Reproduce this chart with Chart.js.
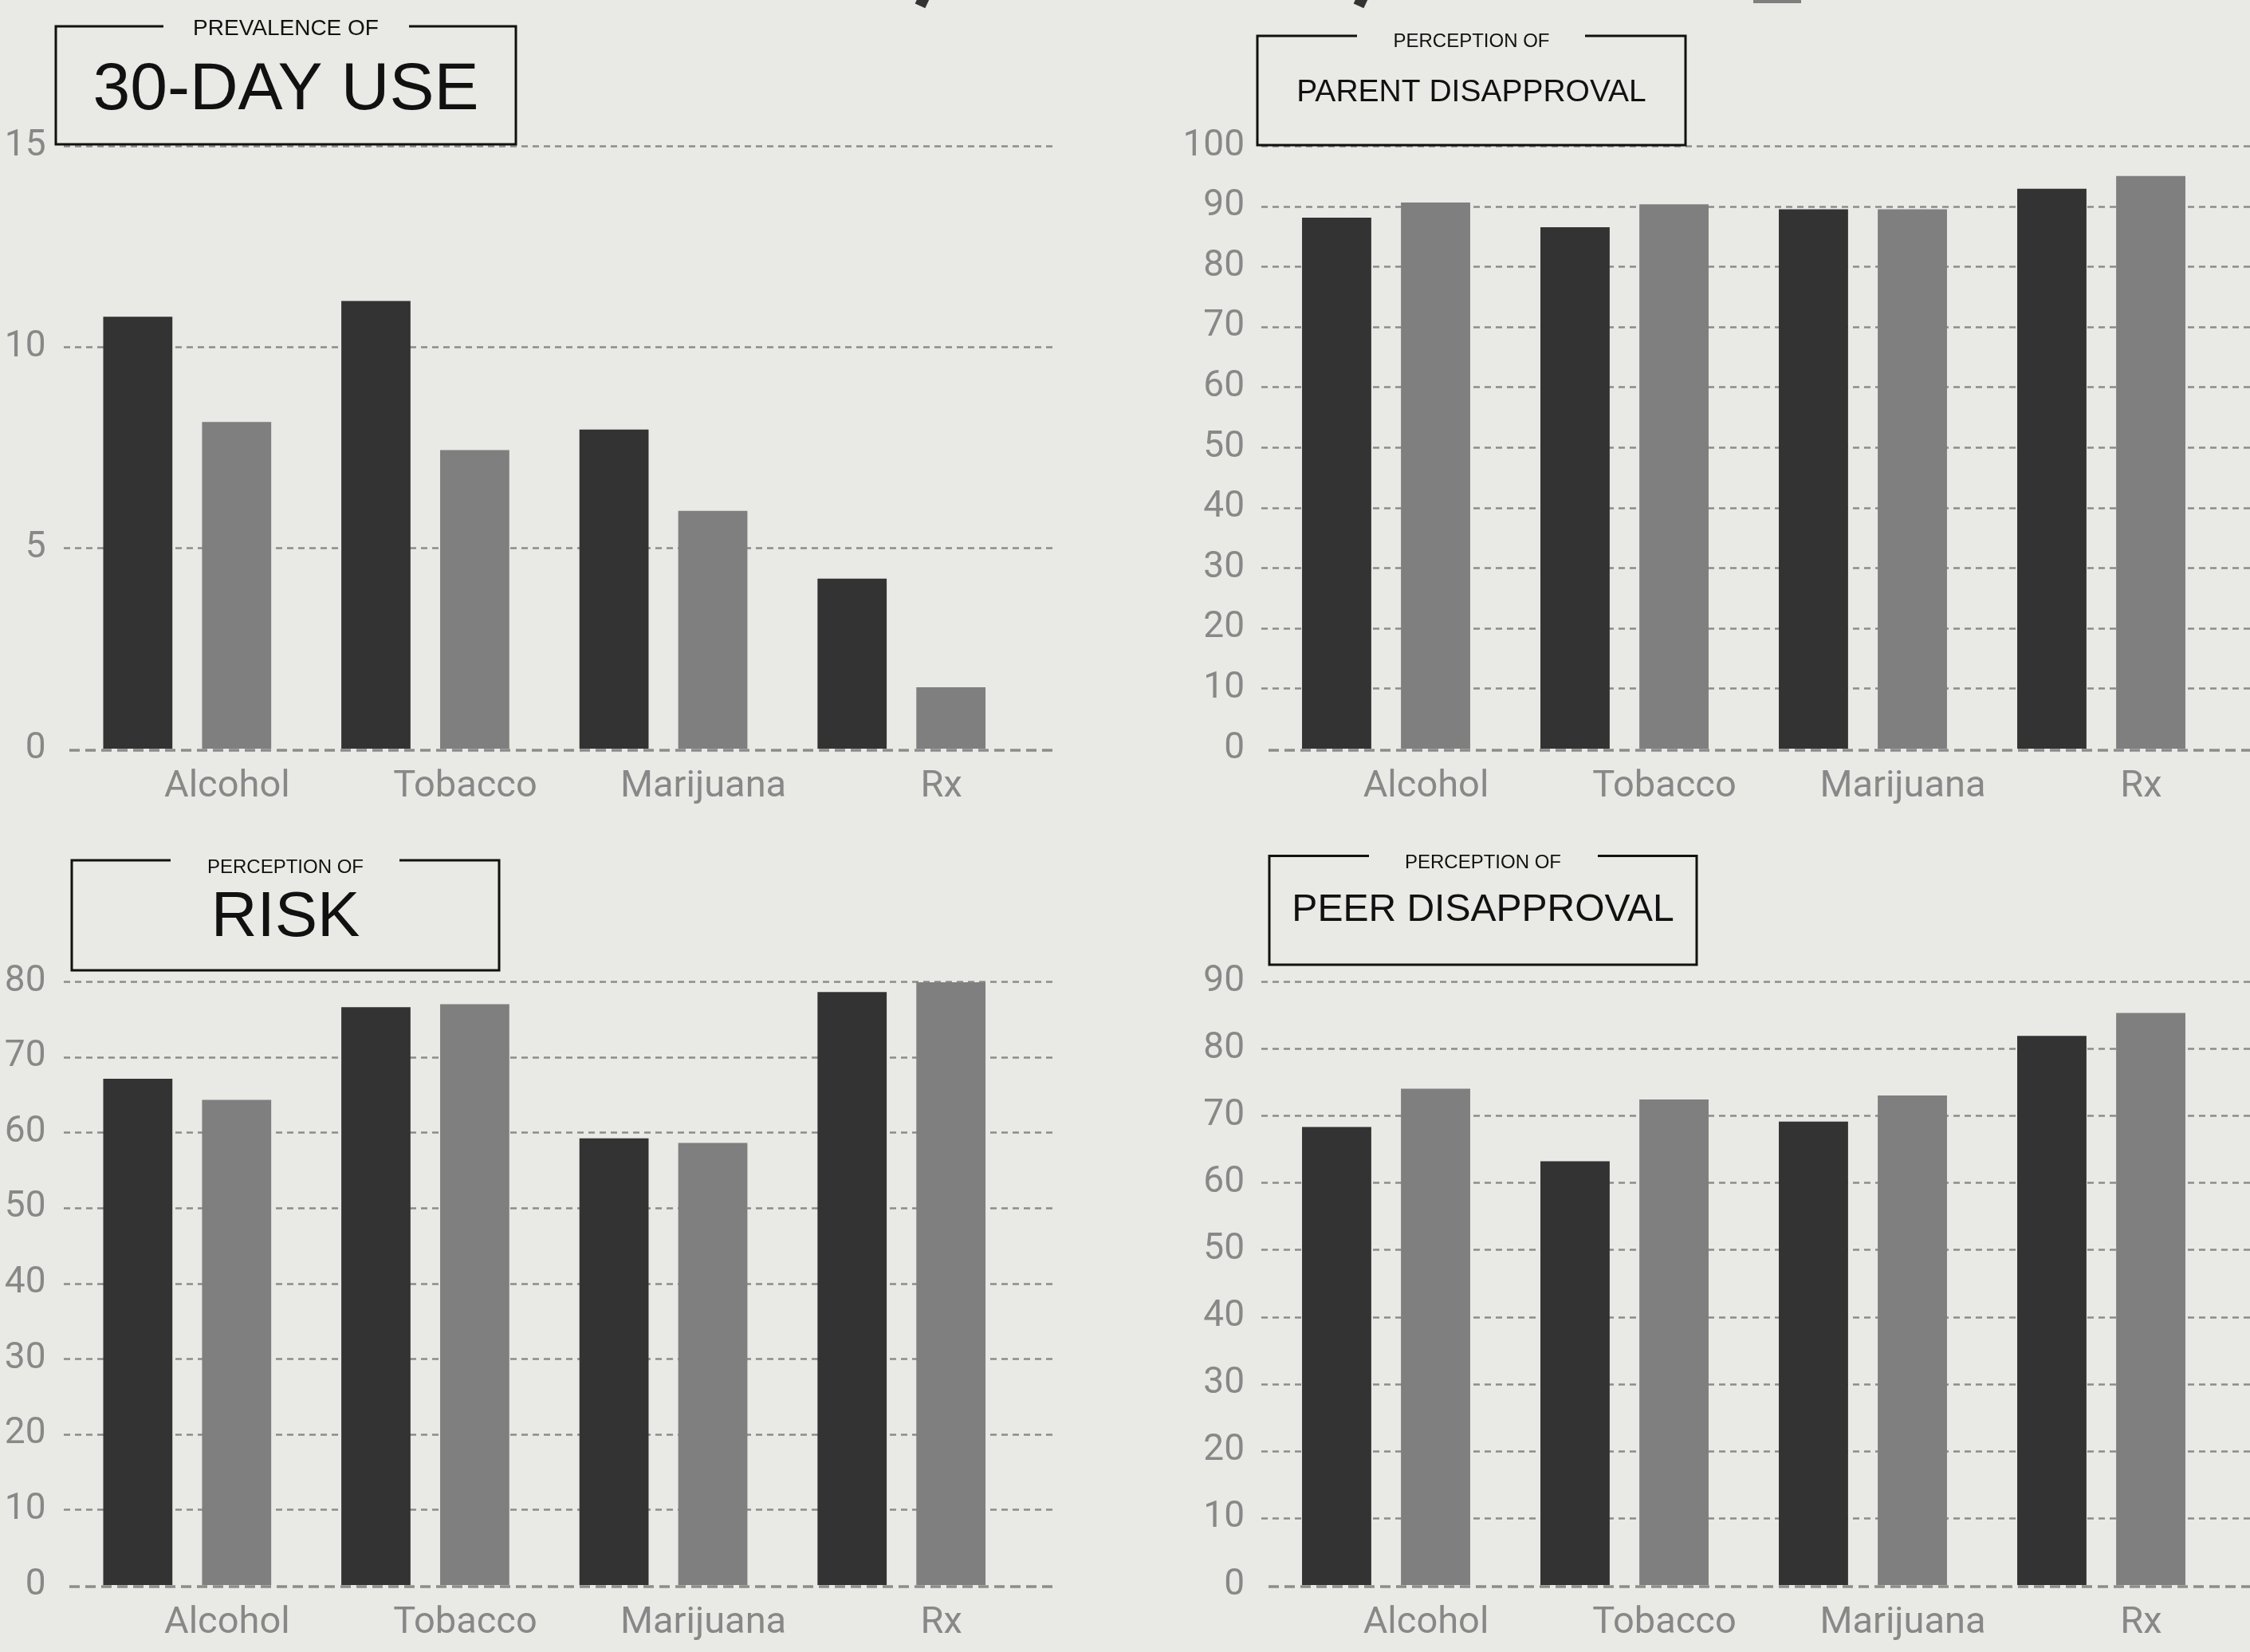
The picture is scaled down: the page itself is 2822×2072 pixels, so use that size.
<!DOCTYPE html>
<html>
<head>
<meta charset="utf-8">
<script src="https://cdn.jsdelivr.net/npm/chart.js@4.4.1/dist/chart.umd.min.js"></script>
<style>
	html, body { margin: 0; padding: 0; background: #e9e9e5; }
	body { width: 2822px; height: 2072px; position: relative; overflow: hidden; }
	.panel { position: absolute; width: 1411px; height: 1036px; }
	.bit { position: absolute; }
</style>
</head>
<body>
<div class="bit" style="left:1150px;top:-6px;width:14px;height:14px;background:#333;transform:rotate(25deg)"></div>
<div class="bit" style="left:1700px;top:-6px;width:14px;height:14px;background:#333;transform:rotate(25deg)"></div>
<div class="bit" style="left:2199px;top:0;width:60px;height:4px;background:#7f7f7f"></div>

<div class="panel" style="left:0;top:0"><canvas id="useChart"></canvas></div>
<div class="panel" style="left:1411px;top:0"><canvas id="parentChart"></canvas></div>
<div class="panel" style="left:0;top:1036px"><canvas id="riskChart"></canvas></div>
<div class="panel" style="left:1411px;top:1036px"><canvas id="peerChart"></canvas></div>

<script>
'use strict'

const categories = ['Alcohol', 'Tobacco', 'Marijuana', 'Rx'];

// prevalence of 30-day use (%)
const useEarlier = [10.75, 11.14, 7.94, 4.23];
const useLater = [8.13, 7.43, 5.92, 1.53];

// perception of parent disapproval (%)
const parentEarlier = [88.1, 86.5, 89.5, 92.9];
const parentLater = [90.6, 90.3, 89.5, 95.0];

// perception of risk (%)
const riskEarlier = [67.1, 76.6, 59.2, 78.6];
const riskLater = [64.3, 77.0, 58.6, 79.9];

// perception of peer disapproval (%)
const peerEarlier = [68.3, 63.2, 69.1, 81.9];
const peerLater = [74.0, 72.4, 73.0, 85.3];

// y axis ranges: [max, step]
const useAxis = [15, 5];
const parentAxis = [100, 10];
const riskAxis = [80, 10];
const peerAxis = [90, 10];

const colors = {
	dark: '#333333',
	light: '#7f7f7f',
	grid: '#8c8c8c',
	tick: '#888888',
	ink: '#111111',
};
const tickFont = 'Roboto, "Liberation Sans", sans-serif';
const titleFont = '"Liberation Sans", Arial, sans-serif';

const paperPlugin = {
	id: 'paper',
	beforeDatasetsDraw(chart, args, opts) {
		const ctx = chart.ctx;
		const y = chart.scales.y;
		ctx.save();
		ctx.strokeStyle = colors.grid;
		ctx.lineWidth = 2.4;
		ctx.setLineDash([8, 6]);
		y.ticks.forEach((t) => {
			if (t.value === 0) return;
			const py = Math.round(y.getPixelForValue(t.value)) + 0.5;
			ctx.beginPath();
			ctx.moveTo(opts.gridLeft, py);
			ctx.lineTo(opts.gridRight, py);
			ctx.stroke();
		});
		ctx.restore();
	},
	afterDatasetsDraw(chart, args, opts) {
		const ctx = chart.ctx;
		const y = chart.scales.y;
		const py = y.getPixelForValue(0) + 2;
		ctx.save();
		ctx.strokeStyle = colors.grid;
		ctx.lineWidth = 3.6;
		ctx.setLineDash([13, 7]);
		ctx.beginPath();
		ctx.moveTo(opts.baseLeft, py);
		ctx.lineTo(opts.gridRight, py);
		ctx.stroke();
		ctx.restore();
	},
	afterDraw(chart, args, opts) {
		const t = opts.title;
		if (!t) return;
		const ctx = chart.ctx;
		const cx = (t.left + t.right) / 2;
		ctx.save();
		ctx.strokeStyle = colors.ink;
		ctx.lineWidth = 3;
		ctx.setLineDash([]);
		ctx.beginPath();
		ctx.moveTo(t.gapRight, t.top);
		ctx.lineTo(t.right, t.top);
		ctx.lineTo(t.right, t.bottom);
		ctx.lineTo(t.left, t.bottom);
		ctx.lineTo(t.left, t.top);
		ctx.lineTo(t.gapLeft, t.top);
		ctx.stroke();
		ctx.fillStyle = colors.ink;
		ctx.textAlign = 'center';
		ctx.textBaseline = 'middle';
		ctx.font = t.kickerSize + 'px ' + titleFont;
		ctx.fillText(t.kicker, cx, t.kickerY);
		ctx.font = t.textSize + 'px ' + titleFont;
		ctx.fillText(t.text, cx, t.textY);
		ctx.restore();
	},
};

function makeChart(id, earlier, later, axis, frame, title) {
	const W = 1411, H = 1036;
	return new Chart(document.getElementById(id), {
		type: 'bar',
		data: {
			labels: categories,
			datasets: [
				{ label: 'Earlier', data: earlier, backgroundColor: colors.dark },
				{ label: 'Later', data: later, backgroundColor: colors.light },
			],
		},
		plugins: [paperPlugin],
		options: {
			responsive: true,
			maintainAspectRatio: false,
			animation: false,
			categoryPercentage: 0.83,
			barPercentage: 0.70,
			layout: {
				padding: { left: 0, right: W - frame.right, top: frame.top, bottom: 0 },
			},
			plugins: {
				legend: { display: false },
				tooltip: { enabled: false },
				paper: {
					gridLeft: frame.gridLeft,
					gridRight: frame.gridRight,
					baseLeft: frame.baseLeft,
					title: title,
				},
			},
			scales: {
				x: {
					grid: { display: false },
					border: { display: false },
					ticks: {
						color: colors.tick,
						font: { family: tickFont, size: 47, weight: 400 },
						padding: 12,
						labelOffset: 50,
						maxRotation: 0,
						autoSkip: false,
					},
					afterFit(scale) { scale.height = H - frame.bottom; },
				},
				y: {
					min: 0,
					max: axis[0],
					grid: { display: false },
					border: { display: false },
					ticks: {
						stepSize: axis[1],
						color: colors.tick,
						font: { family: tickFont, size: 46, weight: 400 },
						padding: 20,
					},
					afterFit(scale) { scale.width = frame.left; },
				},
			},
		},
	});
}

makeChart('useChart', useEarlier, useLater, useAxis,
	{ left: 85.5, right: 1280, top: 183, bottom: 939, gridLeft: 80, gridRight: 1324, baseLeft: 87 },
	{ left: 70, right: 647, top: 33, bottom: 181, gapLeft: 205, gapRight: 513,
		kicker: 'PREVALENCE OF', kickerSize: 28, kickerY: 36, text: '30-DAY USE', textSize: 84, textY: 114 });

makeChart('parentChart', parentEarlier, parentLater, parentAxis,
	{ left: 178, right: 1374, top: 183, bottom: 939, gridLeft: 171, gridRight: 1411, baseLeft: 180 },
	{ left: 166, right: 703, top: 45, bottom: 182, gapLeft: 291, gapRight: 577,
		kicker: 'PERCEPTION OF', kickerSize: 24, kickerY: 52, text: 'PARENT DISAPPROVAL', textSize: 39, textY: 116 });

makeChart('riskChart', riskEarlier, riskLater, riskAxis,
	{ left: 85.5, right: 1280, top: 195, bottom: 952, gridLeft: 80, gridRight: 1324, baseLeft: 87 },
	{ left: 90, right: 626, top: 43, bottom: 181, gapLeft: 214, gapRight: 501,
		kicker: 'PERCEPTION OF', kickerSize: 24, kickerY: 52, text: 'RISK', textSize: 80, textY: 116 });

makeChart('peerChart', peerEarlier, peerLater, peerAxis,
	{ left: 178, right: 1374, top: 195, bottom: 952, gridLeft: 171, gridRight: 1411, baseLeft: 180 },
	{ left: 181, right: 717, top: 37.5, bottom: 174, gapLeft: 306, gapRight: 593,
		kicker: 'PERCEPTION OF', kickerSize: 24, kickerY: 46, text: 'PEER DISAPPROVAL', textSize: 48, textY: 106 });
</script>
</body>
</html>
